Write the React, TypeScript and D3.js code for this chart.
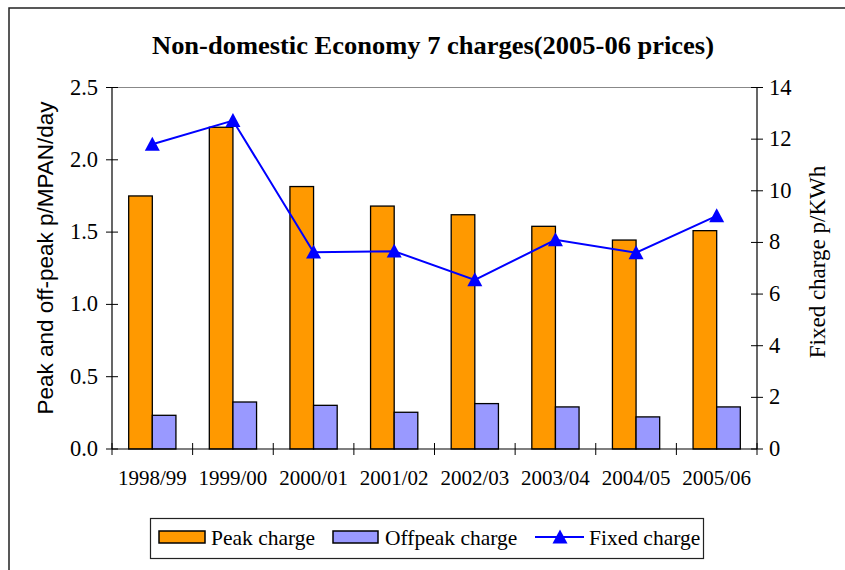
import React from "react";
import * as d3 from "d3";

const categories = ["1998/99", "1999/00", "2000/01", "2001/02", "2002/03", "2003/04", "2004/05", "2005/06"];
const peakCharge = [1.75, 2.225, 1.815, 1.68, 1.62, 1.54, 1.445, 1.51];
const offpeakCharge = [0.233, 0.325, 0.302, 0.254, 0.314, 0.291, 0.222, 0.291];
const fixedCharge = [11.8, 12.72, 7.62, 7.66, 6.55, 8.1, 7.6, 9.03];
const leftTicks = [0, 0.5, 1.0, 1.5, 2.0, 2.5];
const rightTicks = [0, 2, 4, 6, 8, 10, 12, 14];

const SERIF = "'Liberation Serif', 'Times New Roman', serif";
const SANS = "'Liberation Sans', Arial, sans-serif";

export default function App() {
  const W = 845, H = 570;
  const left = 112, right = 757, top = 87.5, bottom = 449;
  const x = d3.scaleBand<string>().domain(categories).range([left, right]).padding(0);
  const yL = d3.scaleLinear().domain([0, 2.5]).range([bottom, top]);
  const yR = d3.scaleLinear().domain([0, 14]).range([bottom, top]);
  const bw = x.bandwidth() * 0.293;
  const cx = (c: string) => (x(c) as number) + x.bandwidth() / 2;
  const line = d3.line<number>().x((_, i) => cx(categories[i])).y((d) => yR(d));
  const tri = (px: number, py: number, s = 7.5) =>
    `M${px},${py - s} L${px + s},${py + s * 0.85} L${px - s},${py + s * 0.85} Z`;

  return (
    <svg width={W} height={H} style={{ position: "absolute", left: 0, top: 0, background: "#fff" }}>
      <rect x={9} y={8} width={900} height={700} fill="#fff" stroke="#222" strokeWidth={1.5} />
      <text x={433} y={54} textAnchor="middle" fontFamily={SERIF} fontWeight="bold" fontSize={26}
        textLength={562} lengthAdjust="spacingAndGlyphs">
        Non-domestic Economy 7 charges(2005-06 prices)
      </text>
      {/* plot border top */}
      <line x1={left} x2={right} y1={top} y2={top} stroke="#888" strokeWidth={1.2} />
      {/* bars */}
      {categories.map((c, i) => (
        <g key={c}>
          <rect x={cx(c) - bw} y={yL(peakCharge[i])} width={bw} height={bottom - yL(peakCharge[i])}
            fill="#FF9900" stroke="#000" strokeWidth={1.3} />
          <rect x={cx(c)} y={yL(offpeakCharge[i])} width={bw} height={bottom - yL(offpeakCharge[i])}
            fill="#9999FF" stroke="#000" strokeWidth={1.3} />
        </g>
      ))}
      {/* axes */}
      <line x1={left} x2={left} y1={top} y2={bottom} stroke="#000" strokeWidth={1.2} />
      <line x1={right} x2={right} y1={top} y2={bottom} stroke="#000" strokeWidth={1.2} />
      <line x1={left} x2={right} y1={bottom} y2={bottom} stroke="#000" strokeWidth={1.2} />
      {leftTicks.map((t) => (
        <g key={"l" + t}>
          <line x1={left - 6} x2={left + 6} y1={yL(t)} y2={yL(t)} stroke="#000" strokeWidth={1} />
          <text x={left - 14} y={yL(t) + 7} textAnchor="end" fontFamily={SERIF} fontSize={22.5}>{t.toFixed(1)}</text>
        </g>
      ))}
      {rightTicks.map((t) => (
        <g key={"r" + t}>
          <line x1={right - 6} x2={right + 6} y1={yR(t)} y2={yR(t)} stroke="#000" strokeWidth={1} />
          <text x={right + 12} y={yR(t) + 7} textAnchor="start" fontFamily={SERIF} fontSize={22.5}>{t}</text>
        </g>
      ))}
      {d3.range(categories.length + 1).map((i) => {
        const px = left + i * x.bandwidth();
        return <line key={"x" + i} x1={px} x2={px} y1={bottom - 6} y2={bottom + 6} stroke="#000" strokeWidth={1} />;
      })}
      {categories.map((c) => (
        <text key={"xl" + c} x={cx(c)} y={485} textAnchor="middle" fontFamily={SERIF} fontSize={21}>{c}</text>
      ))}
      {/* axis titles */}
      <text transform={`translate(53,258) rotate(-90)`} textAnchor="middle" fontFamily={SANS} fontSize={22.5}>
        Peak and off-peak p/MPAN/day
      </text>
      <text transform={`translate(825,262) rotate(-90)`} textAnchor="middle" fontFamily={SERIF} fontSize={23}>
        Fixed charge p/KWh
      </text>
      {/* line */}
      <path d={line(fixedCharge) as string} fill="none" stroke="#0000FF" strokeWidth={2} />
      {fixedCharge.map((v, i) => (
        <path key={"m" + i} d={tri(cx(categories[i]), yR(v))} fill="#0000FF" />
      ))}
      {/* legend */}
      <rect x={150.5} y={518.5} width={553} height={40} fill="#fff" stroke="#222" strokeWidth={1.2} />
      <rect x={159} y={531} width={46} height={12} fill="#FF9900" stroke="#000" strokeWidth={1.5} />
      <text x={211} y={545} fontFamily={SERIF} fontSize={21.5}>Peak charge</text>
      <rect x={333} y={531} width={45} height={12} fill="#9999FF" stroke="#000" strokeWidth={1.5} />
      <text x={385} y={545} fontFamily={SERIF} fontSize={21.5}>Offpeak charge</text>
      <line x1={535} x2={584} y1={537} y2={537} stroke="#0000FF" strokeWidth={2} />
      <path d={tri(560, 537)} fill="#0000FF" />
      <text x={589} y={545} fontFamily={SERIF} fontSize={21.5}>Fixed charge</text>
    </svg>
  );
}
